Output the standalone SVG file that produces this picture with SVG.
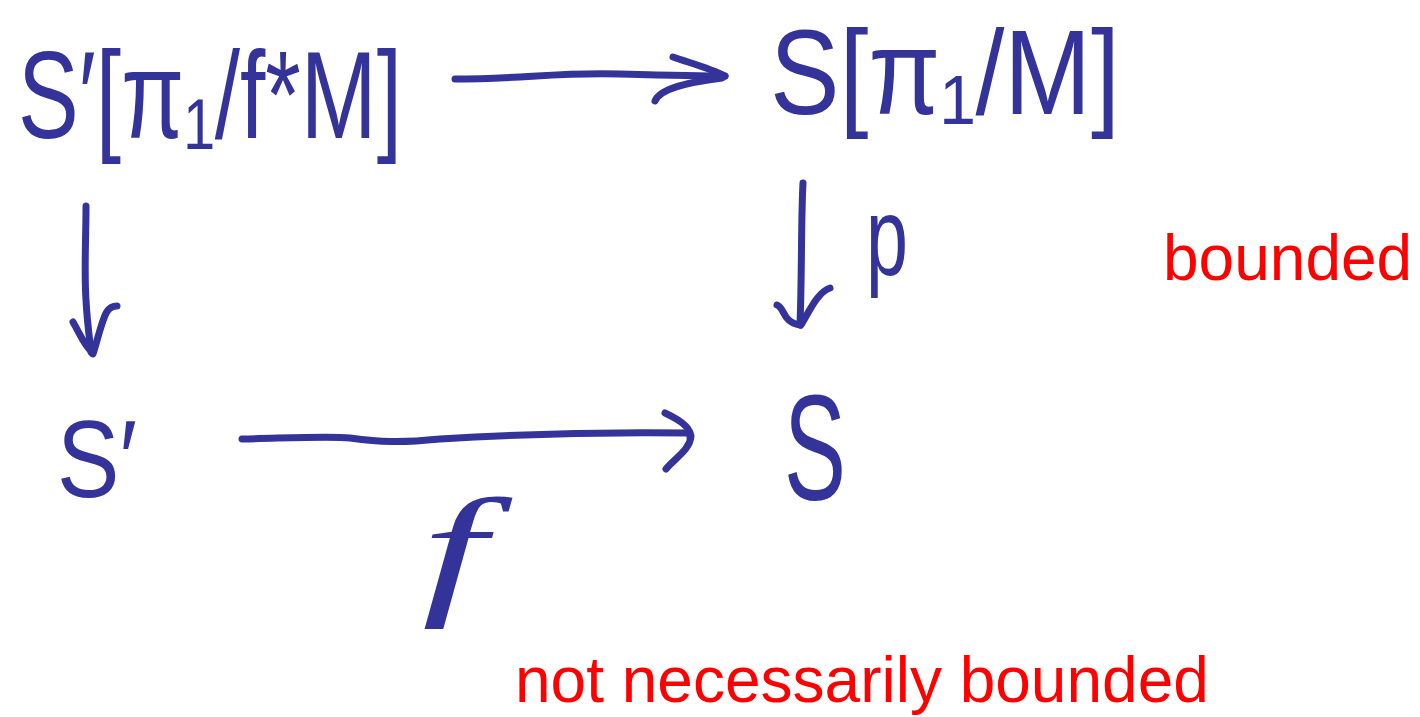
<svg xmlns="http://www.w3.org/2000/svg" width="1420" height="717" viewBox="0 0 1420 717">
<style>
.hw{fill:#333399;font-family:"Liberation Sans","DejaVu Sans",Arial,sans-serif;}
.red{fill:#FF0000;font-family:"Liberation Sans",Arial,sans-serif;font-size:64px;}
.pen{fill:none;stroke:#333399;stroke-width:7;stroke-linecap:round;stroke-linejoin:round;}
</style>
<rect width="1420" height="717" fill="#FFFFFF"/>
<g id="connectors">
  <g id="arrow-top">
    <path class="pen" d="M455,79 C520,79 560,72 620,74 C660,75 700,76 725,76"/>
    <path class="pen" d="M673,57 C690,63 710,68 725,76"/>
    <path class="pen" d="M655,101 C660,88 690,82 722,78"/>
  </g>
  <g id="arrow-left">
    <path class="pen" d="M86,206 C86,240 84,270 86,300 C87,320 89,335 91,352"/>
    <path class="pen" d="M73,322 C80,334 84,345 92,352"/>
    <path class="pen" d="M117,306 C106,306 104,318 100,330 C97,340 95,348 93,354"/>
  </g>
  <g id="arrow-right">
    <path class="pen" d="M803,183 C801,220 802,270 800,325"/>
    <path class="pen" d="M777,305 C785,308 782,322 800,325"/>
    <path class="pen" d="M830,288 C818,292 810,310 801,325"/>
  </g>
  <g id="arrow-bottom">
    <path class="pen" d="M242,439 C290,438 330,436 350,438 C380,442 400,443 440,439 C520,434 620,432 690,433"/>
    <path class="pen" d="M665,413 C680,420 692,428 690,437"/>
    <path class="pen" d="M666,469 C675,458 690,450 691,436"/>
  </g>
</g>
<g id="node-Sprime-pi1-fstarM">
  <text class="hw" x="18" y="138" font-size="124" textLength="384" lengthAdjust="spacingAndGlyphs">S′[π₁/f*M]</text>
</g>
<g id="node-S-pi1-M">
  <text class="hw" x="770" y="114" font-size="120" textLength="350" lengthAdjust="spacingAndGlyphs">S[π₁/M]</text>
</g>
<g id="node-Sprime">
  <text class="hw" x="57" y="497" font-size="110" textLength="80" lengthAdjust="spacingAndGlyphs">S′</text>
</g>
<g id="node-S">
  <text class="hw" x="784" y="500" font-size="150" textLength="62" lengthAdjust="spacingAndGlyphs">S</text>
</g>
<g id="label-p">
  <text class="hw" x="866" y="275" font-size="112" textLength="42" lengthAdjust="spacingAndGlyphs">p</text>
</g>
<g id="label-f">
  <text transform="translate(422,598) scale(1,2)" x="0" y="0" font-size="72" textLength="64" lengthAdjust="spacingAndGlyphs" style="fill:#333399;font-family:'Liberation Serif','DejaVu Serif',serif;font-style:italic">f</text>
</g>
<g id="notes">
  <text class="red" x="1163" y="280">bounded</text>
  <text class="red" x="515" y="702">not necessarily bounded</text>
</g>
</svg>
